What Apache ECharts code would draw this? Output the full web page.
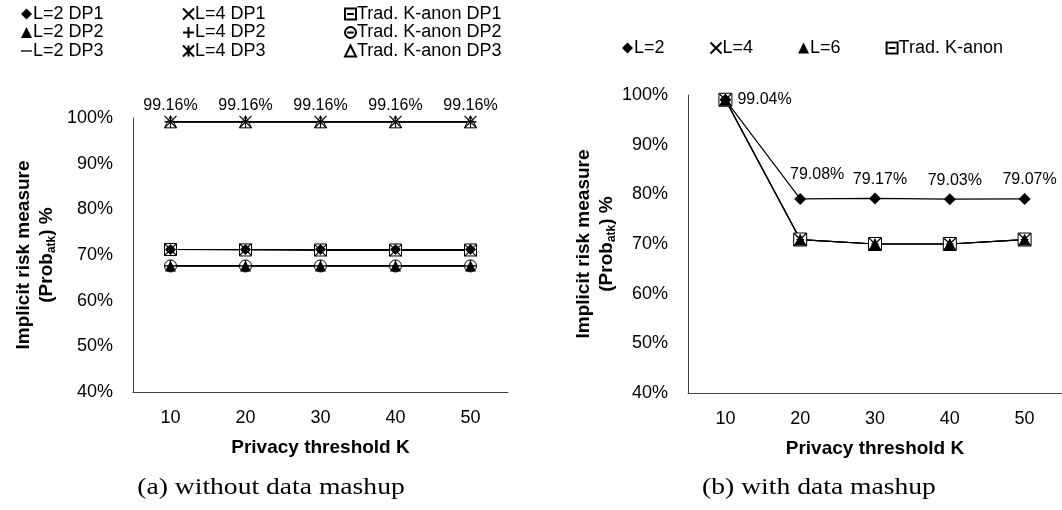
<!DOCTYPE html>
<html>
<head>
<meta charset="utf-8">
<script src="https://cdn.jsdelivr.net/npm/echarts@6/dist/echarts.min.js"></script>
<style>
  html, body { margin: 0; padding: 0; background: #fff; }
  #chart { width: 1062px; height: 510px; }
</style>
</head>
<body>
<div id="chart"></div>
<script>
// x categories (privacy threshold K)
const kLabels = ['10', '20', '30', '40', '50'];

// (a) without data mashup
const l2Dp1 = [71.2, 71.2, 71.2, 71.2, 71.2];
const l2Dp2 = [67.6, 67.6, 67.6, 67.6, 67.6];
const l2Dp3 = [99.16, 99.16, 99.16, 99.16, 99.16];
const l4Dp1 = [71.2, 71.2, 71.0, 71.0, 71.0];
const l4Dp2 = [67.6, 67.6, 67.6, 67.6, 67.6];
const l4Dp3 = [99.16, 99.16, 99.16, 99.16, 99.16];
const tradDp1 = [71.2, 71.1, 71.1, 71.1, 71.1];
const tradDp2 = [67.6, 67.6, 67.6, 67.6, 67.6];
const tradDp3 = [99.16, 99.16, 99.16, 99.16, 99.16];

// (b) with data mashup
const l2 = [99.04, 79.08, 79.17, 79.03, 79.07];
const l4 = [99.04, 70.9, 70.0, 70.0, 70.9];
const l6 = [99.04, 70.9, 70.0, 70.0, 70.9];
const tradK = [99.04, 70.9, 70.0, 70.0, 70.9];

const yTicks = { min: 40, max: 100, interval: 10 };

const FONT = 'Liberation Sans, Arial, sans-serif';
const SERIF = '"Liberation Serif", "Times New Roman", serif';

// marker shapes
const SYM = {
  diamond: 'diamond',
  triangle: 'triangle',
  dash: 'path://M0,4.4L10,4.4L10,5.6L0,5.6ZM0,0M0,10',
  cross: 'path://M0,0L10,10M10,0L0,10',
  plus: 'path://M5,0L5,10M0,5L10,5',
  star: 'path://M0,0L10,10M10,0L0,10M5,0L5,10',
  boxMinus: 'path://M0,0L10,0L10,10L0,10ZM2,5L8,5',
  circleMinus: 'path://M10,5A5,5 0 1 1 0,5A5,5 0 1 1 10,5ZM2,5L8,5'
};

const filled = { color: '#000', borderColor: '#000', borderWidth: 0 };
const stroked = { color: '#000', borderColor: '#000', borderWidth: 1.2 };
const hollow = { color: '#fff', borderColor: '#000', borderWidth: 1 };

const mk = (name, data, symbol, styleKind, axis, extra) => Object.assign({
  name: name,
  type: 'line',
  xAxisIndex: axis,
  yAxisIndex: axis,
  data: data,
  symbol: symbol,
  symbolSize: 12,
  showAllSymbol: true,
  lineStyle: { color: '#000', width: 1.2 },
  itemStyle: styleKind,
  emphasis: { disabled: true },
  animation: false
}, extra || {});

// labels for (b) L=2 series
const l2Data = l2.map((v, i) => ({
  value: v,
  label: i === 0
    ? { position: 'right', distance: 6 }
    : { position: 'top', distance: 5, offset: [i === 1 ? 17 : 5, i === 1 ? -5 : 0] }
}));

const pctLabel = {
  show: true,
  formatter: p => p.value.toFixed(2) + '%',
  color: '#000',
  fontFamily: FONT,
  fontSize: 16
};

const legendText = { color: '#000', fontFamily: FONT, fontSize: 18, padding: [0, 0, 0, -4] };

const legendCol = (left, items) => ({
  orient: 'vertical',
  left: left,
  top: 0,
  itemGap: 0.5,
  itemWidth: 11,
  itemHeight: 11,
  textStyle: legendText,
  data: items
});

const yAxisCommon = {
  type: 'value',
  min: yTicks.min,
  max: yTicks.max,
  interval: yTicks.interval,
  name: 'Implicit risk measure\n(Prob{sub|atk}) %',
  nameLocation: 'middle',
  nameRotate: 90,
  nameTextStyle: {
    color: '#000', fontFamily: FONT, fontSize: 19, fontWeight: 'bold', lineHeight: 23,
    rich: { sub: { fontSize: 12, fontWeight: 'bold', fontFamily: FONT, verticalAlign: 'bottom', lineHeight: 19 } }
  },
  axisLine: { show: true, lineStyle: { color: '#404040', width: 1 } },
  axisTick: { show: false },
  splitLine: { show: false },
  axisLabel: { formatter: '{value}%', color: '#000', fontFamily: FONT, fontSize: 18, margin: 20 }
};

const xAxisCommon = {
  type: 'category',
  data: kLabels,
  boundaryGap: true,
  name: 'Privacy threshold K',
  nameLocation: 'middle',
  nameGap: 46,
  nameTextStyle: { color: '#000', fontFamily: FONT, fontSize: 19, fontWeight: 'bold' },
  axisLine: { show: true, lineStyle: { color: '#404040', width: 1 } },
  axisTick: { show: false },
  axisLabel: { color: '#000', fontFamily: FONT, fontSize: 18, margin: 17 }
};

const chart = echarts.init(document.getElementById('chart'), null, { renderer: 'canvas' });

chart.setOption({
  animation: false,
  backgroundColor: '#fff',
  legend: [
    legendCol(16, [
      { name: 'L=2 DP1', icon: SYM.diamond },
      { name: 'L=2 DP2', icon: SYM.triangle },
      { name: 'L=2 DP3', icon: SYM.dash }
    ]),
    legendCol(177, [
      { name: 'L=4 DP1', icon: SYM.cross },
      { name: 'L=4 DP2', icon: SYM.plus },
      { name: 'L=4 DP3', icon: SYM.star }
    ]),
    legendCol(339, [
      { name: 'Trad. K-anon DP1', icon: SYM.boxMinus },
      { name: 'Trad. K-anon DP2', icon: SYM.circleMinus },
      { name: 'Trad. K-anon DP3', icon: SYM.triangle }
    ]),
    {
      orient: 'horizontal',
      left: 617,
      top: 34,
      itemGap: 45,
      itemWidth: 11,
      itemHeight: 11,
      textStyle: legendText,
      data: [
        { name: 'L=2', icon: SYM.diamond },
        { name: 'L=4', icon: SYM.cross },
        { name: 'L=6', icon: SYM.triangle },
        { name: 'Trad. K-anon', icon: SYM.boxMinus }
      ]
    }
  ],
  grid: [
    { left: 133, right: 554, top: 118, bottom: 118, containLabel: false },
    { left: 688, right: 0, top: 95, bottom: 117, containLabel: false }
  ],
  xAxis: [
    Object.assign({ gridIndex: 0 }, xAxisCommon),
    Object.assign({ gridIndex: 1 }, xAxisCommon)
  ],
  yAxis: [
    Object.assign({ gridIndex: 0, nameGap: 75 }, yAxisCommon),
    Object.assign({ gridIndex: 1, nameGap: 68 }, yAxisCommon)
  ],
  series: [
    mk('Trad. K-anon DP1', tradDp1, SYM.boxMinus, hollow, 0),
    mk('Trad. K-anon DP2', tradDp2, SYM.circleMinus, hollow, 0),
    mk('Trad. K-anon DP3', tradDp3, SYM.triangle, hollow, 0),
    mk('L=4 DP1', l4Dp1, SYM.cross, stroked, 0),
    mk('L=4 DP2', l4Dp2, SYM.plus, stroked, 0),
    mk('L=2 DP1', l2Dp1, SYM.diamond, filled, 0, { symbolSize: 11 }),
    mk('L=2 DP2', l2Dp2, SYM.triangle, filled, 0, { symbolSize: 11 }),
    mk('L=2 DP3', l2Dp3, SYM.dash, filled, 0),
    mk('L=4 DP3', l4Dp3, SYM.star, stroked, 0, {
      label: Object.assign({ position: 'top', distance: 2 }, pctLabel)
    }),
    mk('Trad. K-anon', tradK, SYM.boxMinus, hollow, 1, { symbolSize: 13 }),
    mk('L=4', l4, SYM.cross, stroked, 1),
    mk('L=6', l6, SYM.triangle, filled, 1),
    mk('L=2', l2Data, SYM.diamond, filled, 1, {
      label: Object.assign({}, pctLabel)
    })
  ],
  graphic: [
    { type: 'text', x: 271, y: 488, scaleX: 1.15, style: { text: '(a) without data mashup', fill: '#000', font: '24px ' + SERIF, textAlign: 'center', textVerticalAlign: 'middle' } },
    { type: 'text', x: 819, y: 488, scaleX: 1.15, style: { text: '(b) with data mashup', fill: '#000', font: '24px ' + SERIF, textAlign: 'center', textVerticalAlign: 'middle' } }
  ]
});

window.addEventListener('resize', () => chart.resize());
</script>
</body>
</html>
